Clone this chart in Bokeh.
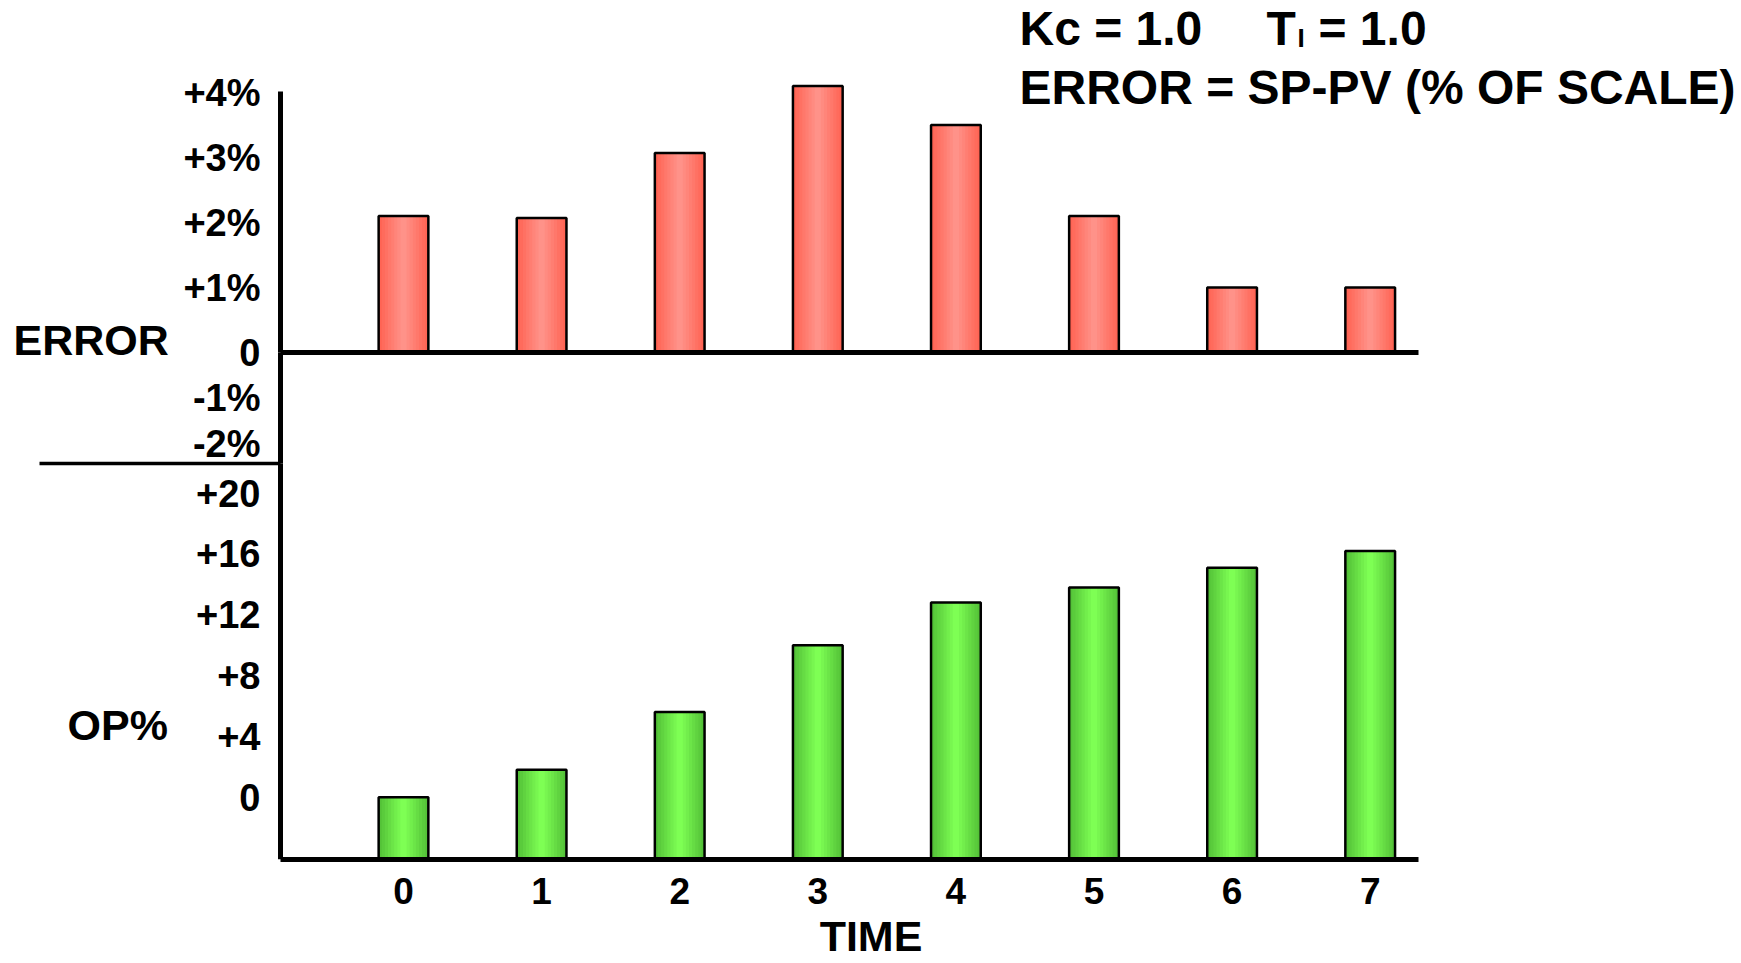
from bokeh.plotting import figure
from bokeh.models import Range1d, FixedTicker, Label, LinearAxis
from bokeh.embed import file_html
from bokeh.resources import INLINE

# ---------------- data ----------------
TIME = [0, 1, 2, 3, 4, 5, 6, 7]
ERROR_PCT = [2.1, 2.07, 3.07, 4.1, 3.5, 2.1, 1.0, 1.0]
OP_PCT = [0.0, 1.8, 5.6, 10.0, 12.8, 13.8, 15.1, 16.2]

ERROR_POS_TICKS = [0, 1, 2, 3, 4]
ERROR_POS_TICK_LABELS = ["0", "+1%", "+2%", "+3%", "+4%"]
ERROR_NEG_TICKS = [-2, -1]
ERROR_NEG_TICK_LABELS = ["-2%", "-1%"]
OP_TICKS = [0, 4, 8, 12, 16, 20]
OP_TICK_LABELS = ["0", "+4", "+8", "+12", "+16", "+20"]
OP_BASE = -4.1

TITLE_KC = "Kc = 1.0"
TITLE_T = "T"
TITLE_T_SUB = "I"
TITLE_T_VAL = "= 1.0"
TITLE_LINE2 = "ERROR = SP-PV (% OF SCALE)"
ERROR_LABEL = "ERROR"
OP_LABEL = "OP%"
X_LABEL = "TIME"

# ---------------- layout (page pixels) ----------------
FONT = "Liberation Sans"
PAGE_W, PAGE_H = 1741, 963
BOTTOM_PANEL = 104
FB = PAGE_H - BOTTOM_PANEL   # frame bottom (OP baseline)
X0_PX = 403         # x of time 0
PX_PER_T = 138.1
AXIS_PX = 280       # vertical axis line
AXIS_END_PX = 1418  # right end of horizontal axis lines
SEP_START_PX = 39
ZERO_PX = 352       # error zero line
SPLIT_PX = 463      # separator between the two panels
K_ERR = 65.0        # px per % error (upper part of the error scale)
K_NEG = 45.5        # px per % error (compressed negative part, as drawn)
K_OP = 15.2         # px per % OP
BAR_W = 0.36

RED_EDGE, RED_MID = (255, 100, 84), (255, 146, 137)
GREEN_EDGE, GREEN_MID = (84, 194, 56), (126, 255, 84)


def px_to_t(px):
    return (px - X0_PX) / PX_PER_T


def mix(a, b, t):
    return "#%02x%02x%02x" % tuple(int(round(a[i] + (b[i] - a[i]) * t)) for i in range(3))


x_range = Range1d(px_to_t(0), px_to_t(PAGE_W))
err_range = Range1d(-(FB - ZERO_PX) / K_ERR, ZERO_PX / K_ERR)
neg_range = Range1d(-(FB - ZERO_PX) / K_NEG, ZERO_PX / K_NEG)
op_range = Range1d(OP_BASE, OP_BASE + FB / K_OP)
err_split = -(SPLIT_PX - ZERO_PX) / K_ERR
neg_split = -(SPLIT_PX - ZERO_PX) / K_NEG
op_split = OP_BASE + (FB - SPLIT_PX) / K_OP

p = figure(width=PAGE_W, height=PAGE_H, x_range=x_range, y_range=err_range,
           output_backend="svg", toolbar_location=None, y_axis_location=None,
           min_border_left=0, min_border_right=0, min_border_top=0,
           min_border_bottom=BOTTOM_PANEL)
p.extra_y_ranges = {"neg": neg_range, "op": op_range}
p.outline_line_color = None
p.grid.visible = False
p.background_fill_color = "white"
p.border_fill_color = "white"


def gradient_bars(x, top, bottom, edge, mid, range_name="default", layers=8):
    for i in range(layers):
        t = i / (layers - 1)
        p.vbar(x=x, top=top, bottom=bottom, width=BAR_W * (1 - i / layers),
               fill_color=mix(edge, mid, t), line_color=None, y_range_name=range_name)
    p.vbar(x=x, top=top, bottom=bottom, width=BAR_W, fill_color=None,
           line_color="black", line_width=2.5, y_range_name=range_name)


gradient_bars(TIME, ERROR_PCT, 0, RED_EDGE, RED_MID)
gradient_bars(TIME, OP_PCT, OP_BASE, GREEN_EDGE, GREEN_MID, range_name="op")


def y_axis(ticks, labels, bounds, range_name="default"):
    ax = LinearAxis(y_range_name=range_name, fixed_location=px_to_t(AXIS_PX), bounds=bounds,
                    ticker=FixedTicker(ticks=ticks),
                    major_label_overrides={t: l for t, l in zip(ticks, labels)})
    ax.axis_line_width = 5
    ax.axis_line_color = "black"
    ax.major_tick_line_color = None
    ax.minor_tick_line_color = None
    ax.major_tick_out = 0
    ax.major_tick_in = 0
    ax.major_label_text_font = FONT
    ax.major_label_text_font_style = "bold"
    ax.major_label_text_font_size = "38px"
    ax.major_label_text_color = "black"
    ax.major_label_standoff = 20
    p.add_layout(ax, "left")


y_axis(ERROR_POS_TICKS, ERROR_POS_TICK_LABELS, (0, 4.02))
y_axis(ERROR_NEG_TICKS, ERROR_NEG_TICK_LABELS, (neg_split, 0), range_name="neg")
y_axis(OP_TICKS, OP_TICK_LABELS, (OP_BASE, op_split), range_name="op")

# bottom TIME axis (OP baseline)
xa = p.below[0]
xa.ticker = FixedTicker(ticks=TIME)
xa.bounds = (px_to_t(AXIS_PX), px_to_t(AXIS_END_PX))
xa.axis_line_width = 5
xa.axis_line_color = "black"
xa.major_tick_line_color = None
xa.minor_tick_line_color = None
xa.major_tick_out = 0
xa.major_tick_in = 0
xa.major_label_text_font = FONT
xa.major_label_text_font_style = "bold"
xa.major_label_text_font_size = "37px"
xa.major_label_text_color = "black"
xa.major_label_standoff = 18
xa.axis_label = X_LABEL
xa.axis_label_text_font = FONT
xa.axis_label_text_font_style = "bold"
xa.axis_label_text_font_size = "43px"
xa.axis_label_text_color = "black"
xa.axis_label_standoff = 5

# error zero line and panel separator, drawn as plain axis lines
for loc, bnds, lw in [(0, (px_to_t(AXIS_PX), px_to_t(AXIS_END_PX)), 5),
                      (err_split, (px_to_t(SEP_START_PX), px_to_t(AXIS_PX)), 3.5)]:
    ax = LinearAxis(fixed_location=loc, bounds=bnds, ticker=FixedTicker(ticks=[]))
    ax.axis_line_width = lw
    ax.axis_line_color = "black"
    ax.major_tick_line_color = None
    ax.minor_tick_line_color = None
    ax.major_label_text_alpha = 0
    p.add_layout(ax, "below")

# texts (screen units: x from frame left, y up from frame bottom)
lbl = dict(x_units="screen", y_units="screen", text_font=FONT, text_font_style="bold",
           text_color="black", text_baseline="alphabetic")
p.add_layout(Label(x=1019, y=FB - 28, text=TITLE_KC, text_font_size="48px", **lbl))
p.add_layout(Label(x=1266, y=FB - 28, text=TITLE_T, text_font_size="48px", **lbl))
p.add_layout(Label(x=1297, y=FB - 37, text=TITLE_T_SUB, text_font_size="26px", **lbl))
p.add_layout(Label(x=1318, y=FB - 28, text=TITLE_T_VAL, text_font_size="48px", **lbl))
p.add_layout(Label(x=1019, y=FB - 87, text=TITLE_LINE2, text_font_size="48px", **lbl))
p.add_layout(Label(x=13, y=FB - 339, text=ERROR_LABEL, text_font_size="43px", **lbl))
p.add_layout(Label(x=67, y=FB - 724, text=OP_LABEL, text_font_size="43px", **lbl))

open("out.html", "w").write(file_html(p, INLINE))
